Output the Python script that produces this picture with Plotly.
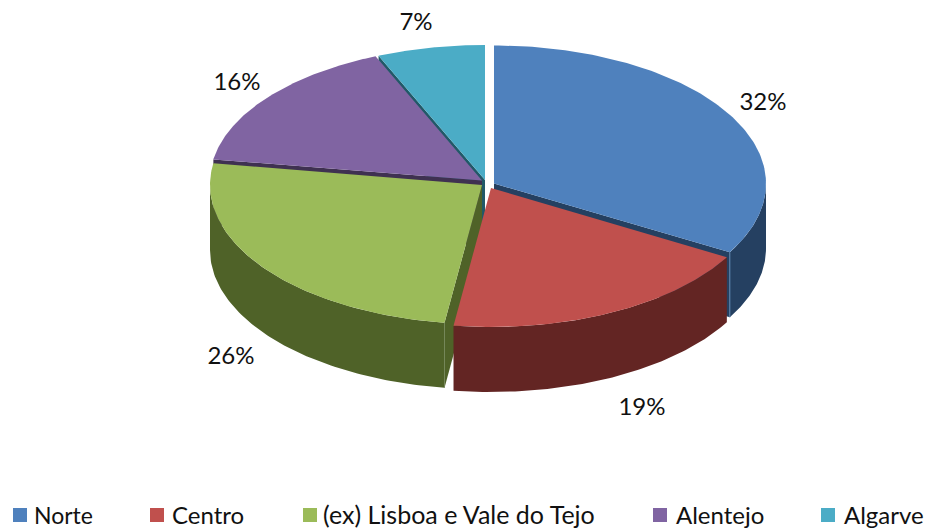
import numpy as np
import plotly.graph_objects as go

categories = ["Norte", "Centro", "(ex) Lisboa e Vale do Tejo", "Alentejo", "Algarve"]
# Slice sizes as they are drawn in the picture (% of the full turn)
shares = [33.3, 18.9, 25.3, 16.1, 6.4]
pct_labels = ["32%", "19%", "26%", "16%", "7%"]

top_colors = ["#4F81BD", "#C0504D", "#9BBB59", "#8064A2", "#4BACC6"]
wall_colors = ["#254061", "#632523", "#4F6228", "#3F3151", "#215968"]
edge_colors = ["#5F86B0", "#7A4543", "#75885A", "#5A4A70", "#3A7F90"]

# Layout of the exploded slices (pixel-based axes)
W, H = 932, 531
RX, RY, DEPTH = 272, 139, 65
apex = [(494, 183.5), (491, 188), (482, 185), (482, 180.5), (485, 180)]
radii_y = [138, 139, 139, 135, 135]
label_pos = [(763, 104), (642, 409), (231, 358), (237, 84), (416, 24)]
legend_box_x = [20, 157, 310, 660, 828]
legend_text_x = [34, 172, 323, 676, 844]
legend_sizes = [23, 24, 25, 24, 24]
legend_y = 518
legend_box_y = 515
paint_order = [4, 3, 0, 2, 1]

edges = np.concatenate([[0], np.cumsum(shares)]) * 360 / sum(shares)


def rim(i, t_deg):
    t = np.radians(t_deg)
    cx, cy = apex[i]
    return cx + RX * np.sin(t), cy - radii_y[i] * np.cos(t)


def poly(x, y, color, name):
    return go.Scatter(x=list(x), y=list(y), mode="lines", fill="toself", fillcolor=color,
                      line=dict(width=0, color=color), name=name, hoverinfo="name", showlegend=False)


fig = go.Figure()
for i in paint_order:
    t0, t1 = edges[i], edges[i + 1]
    cx, cy = apex[i]
    name = categories[i]

    # flat side walls that face the viewer
    for t, visible in ((t0, 180 < t0 < 360), (t1, 0 < t1 < 180)):
        if visible:
            px, py = rim(i, t)
            fig.add_trace(poly([cx, px, px, cx, cx], [cy, py, py + DEPTH, cy + DEPTH, cy],
                               wall_colors[i], name))

    # curved outer wall, front half only
    a, b = max(t0, 90), min(t1, 270)
    if a < b:
        ts = np.linspace(a, b, 90)
        rx, ry = rim(i, ts)
        fig.add_trace(poly(np.r_[rx, rx[::-1], rx[0]], np.r_[ry, ry[::-1] + DEPTH, ry[0]],
                           wall_colors[i], name))

    # light edge at the corner of the wall
    if 0 < t1 < 180 or 180 < t0 < 270:
        px, py = rim(i, t1 if t1 < 180 else t0)
        fig.add_trace(go.Scatter(x=[px, px], y=[py, py + DEPTH], mode="lines", hoverinfo="skip",
                                 line=dict(color=edge_colors[i], width=1), showlegend=False))

    # top face
    ts = np.linspace(t0, t1, 120)
    rx, ry = rim(i, ts)
    fig.add_trace(poly(np.r_[cx, rx, cx], np.r_[cy, ry, cy], top_colors[i], name))

# percentage labels
fig.add_trace(go.Scatter(x=[p[0] for p in label_pos], y=[p[1] for p in label_pos], mode="text",
                         text=pct_labels, textposition="middle center", hoverinfo="skip",
                         textfont=dict(family="Lato", size=24, color="#111111"), showlegend=False))

# legend row
fig.add_trace(go.Scatter(x=legend_box_x, y=[legend_box_y] * 5, mode="markers", hoverinfo="skip",
                         marker=dict(symbol="square", size=14, color=top_colors, line=dict(width=0)),
                         showlegend=False))
fig.add_trace(go.Scatter(x=legend_text_x, y=[legend_y] * 5, mode="text", text=categories,
                         textposition="middle right", hoverinfo="skip",
                         textfont=dict(family="Lato", size=legend_sizes, color="#111111"), showlegend=False))

fig.update_layout(
    width=W, height=H, margin=dict(l=0, r=0, t=0, b=0),
    paper_bgcolor="white", plot_bgcolor="white",
    xaxis=dict(range=[0, W], visible=False, fixedrange=True),
    yaxis=dict(range=[H, 0], visible=False, fixedrange=True),
    showlegend=False,
)
fig.write_html("out.html", config={"displayModeBar": False},
               post_script="document.body.style.margin='0';document.body.style.overflow='hidden';")
